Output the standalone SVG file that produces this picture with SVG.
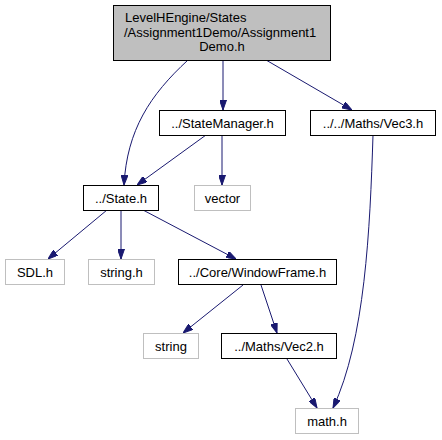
<svg xmlns="http://www.w3.org/2000/svg" width="442" height="440" viewBox="0 0 442 440">
<defs>
<style>
.n rect{fill:#ffffff;stroke:#000000;stroke-width:1}
.g rect{fill:#ffffff;stroke:#bfbfbf;stroke-width:1}
text{font-family:"Liberation Sans",Arial,sans-serif;font-size:13px;fill:#000000}
.c{text-anchor:middle}
#edges path{fill:none;stroke:#191970;stroke-width:1;marker-end:url(#ah)}
</style>
<marker id="ah" viewBox="0 0 10 7" refX="10" refY="3.5" markerWidth="10" markerHeight="7" markerUnits="userSpaceOnUse" orient="auto">
<path d="M0,0 L10,3.5 L0,7 z" fill="#191970" stroke="#191970" stroke-width="1"/>
</marker>
</defs>
<rect width="442" height="440" fill="#ffffff"/>
<g id="edges">
<path d="M188,60 C150,95 127,130 124,185"/>
<path d="M223,60 L223,110"/>
<path d="M266,60 L352,110"/>
<path d="M206,135 L137,185"/>
<path d="M222,135 L222,185"/>
<path d="M373,135 C370,230 365,340 333,408"/>
<path d="M107,210 L48,259"/>
<path d="M121,210 L121,259"/>
<path d="M143,210 L236,259"/>
<path d="M243,285 L183,333"/>
<path d="M261,285 L277,333"/>
<path d="M287,359 L317,408"/>
</g>
<g id="node_main" class="n">
<rect x="113.5" y="5.5" width="217" height="55" style="fill:#bfbfbf"/>
<text x="125" y="22">LevelHEngine/States</text>
<text x="124" y="37">/Assignment1Demo/Assignment1</text>
<text x="222" y="51" class="c">Demo.h</text>
</g>
<g id="node_statemanager" class="n">
<rect x="159.5" y="110.5" width="126" height="25"/>
<text x="222.5" y="127.5" class="c">../StateManager.h</text>
</g>
<g id="node_vec3" class="n">
<rect x="310.5" y="110.5" width="125" height="25"/>
<text x="373" y="127.5" class="c">../../Maths/Vec3.h</text>
</g>
<g id="node_state" class="n">
<rect x="83.5" y="185.5" width="75" height="25"/>
<text x="121" y="202.5" class="c">../State.h</text>
</g>
<g id="node_vector" class="g">
<rect x="194.5" y="185.5" width="56" height="25"/>
<text x="222.5" y="202.5" class="c">vector</text>
</g>
<g id="node_sdl" class="g">
<rect x="5.5" y="259.5" width="59" height="25"/>
<text x="35" y="276.5" class="c">SDL.h</text>
</g>
<g id="node_stringh" class="g">
<rect x="88.5" y="259.5" width="66" height="25"/>
<text x="121.5" y="276.5" class="c">string.h</text>
</g>
<g id="node_windowframe" class="n">
<rect x="178.5" y="259.5" width="158" height="25"/>
<text x="257.5" y="276.5" class="c">../Core/WindowFrame.h</text>
</g>
<g id="node_string" class="g">
<rect x="143.5" y="333.5" width="55" height="25"/>
<text x="171" y="350.5" class="c">string</text>
</g>
<g id="node_vec2" class="n">
<rect x="221.5" y="333.5" width="115" height="25"/>
<text x="279" y="350.5" class="c">../Maths/Vec2.h</text>
</g>
<g id="node_math" class="g">
<rect x="295.5" y="408.5" width="63" height="25"/>
<text x="327" y="425.5" class="c">math.h</text>
</g>
</svg>
